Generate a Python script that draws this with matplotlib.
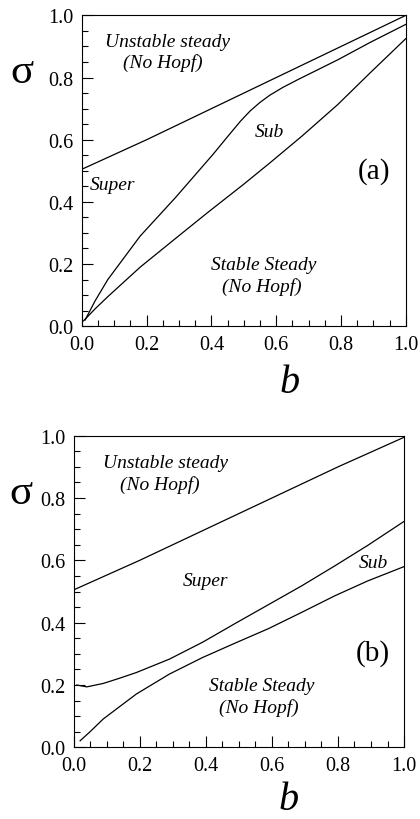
import matplotlib
matplotlib.use("Agg")
import matplotlib.pyplot as plt
from matplotlib.ticker import MultipleLocator

plt.rcParams['font.family'] = ['Liberation Serif', 'DejaVu Serif']

# panel (a) boundaries
a_upper_b = [0.0, 0.2, 0.4, 0.6, 0.8, 1.0]
a_upper_s = [0.505, 0.6, 0.7, 0.8, 0.9, 1.0]
a_mid_b = [0.01, 0.04, 0.08, 0.18, 0.29, 0.35, 0.405, 0.45, 0.49, 0.52, 0.55, 0.58,
           0.62, 0.67, 0.73, 0.79, 0.89, 1.0]
a_mid_s = [0.02, 0.08, 0.15, 0.29, 0.415, 0.487, 0.553, 0.61, 0.66, 0.693, 0.72, 0.743,
           0.768, 0.795, 0.826, 0.857, 0.913, 0.971]
a_low_b = [0.005, 0.04, 0.08, 0.18, 0.29, 0.39, 0.5, 0.58, 0.68, 0.79, 0.89, 1.0]
a_low_s = [0.017, 0.055, 0.095, 0.19, 0.283, 0.367, 0.457, 0.525, 0.612, 0.713, 0.815, 0.925]

# panel (b) boundaries
b_upper_b = [0.0, 0.2, 0.4, 0.6, 0.8, 1.0]
b_upper_s = [0.505, 0.6, 0.7, 0.8, 0.9, 0.995]
b_mid_b = [0.01, 0.04, 0.09, 0.14, 0.19, 0.29, 0.39, 0.49, 0.59, 0.69, 0.79, 0.89, 1.0]
b_mid_s = [0.2, 0.194, 0.205, 0.222, 0.24, 0.283, 0.337, 0.398, 0.458, 0.518, 0.582, 0.648,
           0.725]
b_low_b = [0.02, 0.05, 0.09, 0.19, 0.29, 0.39, 0.49, 0.59, 0.69, 0.79, 0.89, 1.0]
b_low_s = [0.021, 0.05, 0.091, 0.171, 0.235, 0.288, 0.335, 0.381, 0.433, 0.486, 0.534, 0.58]

tick_vals = [0.0, 0.2, 0.4, 0.6, 0.8, 1.0]
tick_labels = ['0.0', '0.2', '0.4', '0.6', '0.8', '1.0']

fig = plt.figure(figsize=(4.2, 8.2), dpi=100)
ax1 = fig.add_axes([0.195, 0.601, 0.771, 0.379])
ax2 = fig.add_axes([0.175, 0.0874, 0.787, 0.380])


def setup(ax):
    ax.set_xlim(0, 1)
    ax.set_ylim(0, 1)
    ax.set_xticks(tick_vals)
    ax.set_xticklabels(tick_labels)
    ax.set_yticks(tick_vals)
    ax.set_yticklabels(tick_labels)
    ax.xaxis.set_minor_locator(MultipleLocator(0.05))
    ax.yaxis.set_minor_locator(MultipleLocator(0.05))
    ax.tick_params(which='both', direction='in', top=False, right=False,
                   labelsize=14.5, width=0.8)
    ax.tick_params(which='major', length=8, pad=6)
    ax.tick_params(which='minor', length=4)
    for sp in ax.spines.values():
        sp.set_linewidth(0.8)
    ax.set_xlabel('b', fontsize=29, style='italic', va='center')
    ax.set_ylabel('σ', fontsize=31, rotation=0, ha='center', va='center')


lw = 0.9
setup(ax1)
ax1.plot(a_upper_b, a_upper_s, color='black', lw=lw)
ax1.plot(a_mid_b, a_mid_s, color='black', lw=lw)
ax1.plot(a_low_b, a_low_s, color='black', lw=lw)
ax1.xaxis.set_label_coords(0.642, -0.18)
ax1.yaxis.set_label_coords(-0.186, 0.82)
ax1.text(0.265, 0.916, 'Unstable steady', style='italic', fontsize=14, ha='center', va='center')
ax1.text(0.25, 0.849, '(No Hopf)', style='italic', fontsize=14, ha='center', va='center')
ax1.text(0.096, 0.457, 'Super', style='italic', fontsize=14, ha='center', va='center')
ax1.text(0.578, 0.628, 'Sub', style='italic', fontsize=14, ha='center', va='center')
ax1.text(0.902, 0.5, '(a)', fontsize=21, ha='center', va='center')
ax1.text(0.56, 0.2, 'Stable Steady', style='italic', fontsize=14, ha='center', va='center')
ax1.text(0.555, 0.13, '(No Hopf)', style='italic', fontsize=14, ha='center', va='center')

setup(ax2)
ax2.plot(b_upper_b, b_upper_s, color='black', lw=lw)
ax2.plot(b_mid_b, b_mid_s, color='black', lw=lw)
ax2.plot(b_low_b, b_low_s, color='black', lw=lw)
ax2.xaxis.set_label_coords(0.65, -0.168)
ax2.yaxis.set_label_coords(-0.159, 0.817)
ax2.text(0.279, 0.913, 'Unstable steady', style='italic', fontsize=14, ha='center', va='center')
ax2.text(0.262, 0.844, '(No Hopf)', style='italic', fontsize=14, ha='center', va='center')
ax2.text(0.398, 0.534, 'Super', style='italic', fontsize=14, ha='center', va='center')
ax2.text(0.907, 0.593, 'Sub', style='italic', fontsize=14, ha='center', va='center')
ax2.text(0.905, 0.304, '(b)', fontsize=21, ha='center', va='center')
ax2.text(0.568, 0.197, 'Stable Steady', style='italic', fontsize=14, ha='center', va='center')
ax2.text(0.562, 0.13, '(No Hopf)', style='italic', fontsize=14, ha='center', va='center')

fig.savefig('out.png', dpi=100)
